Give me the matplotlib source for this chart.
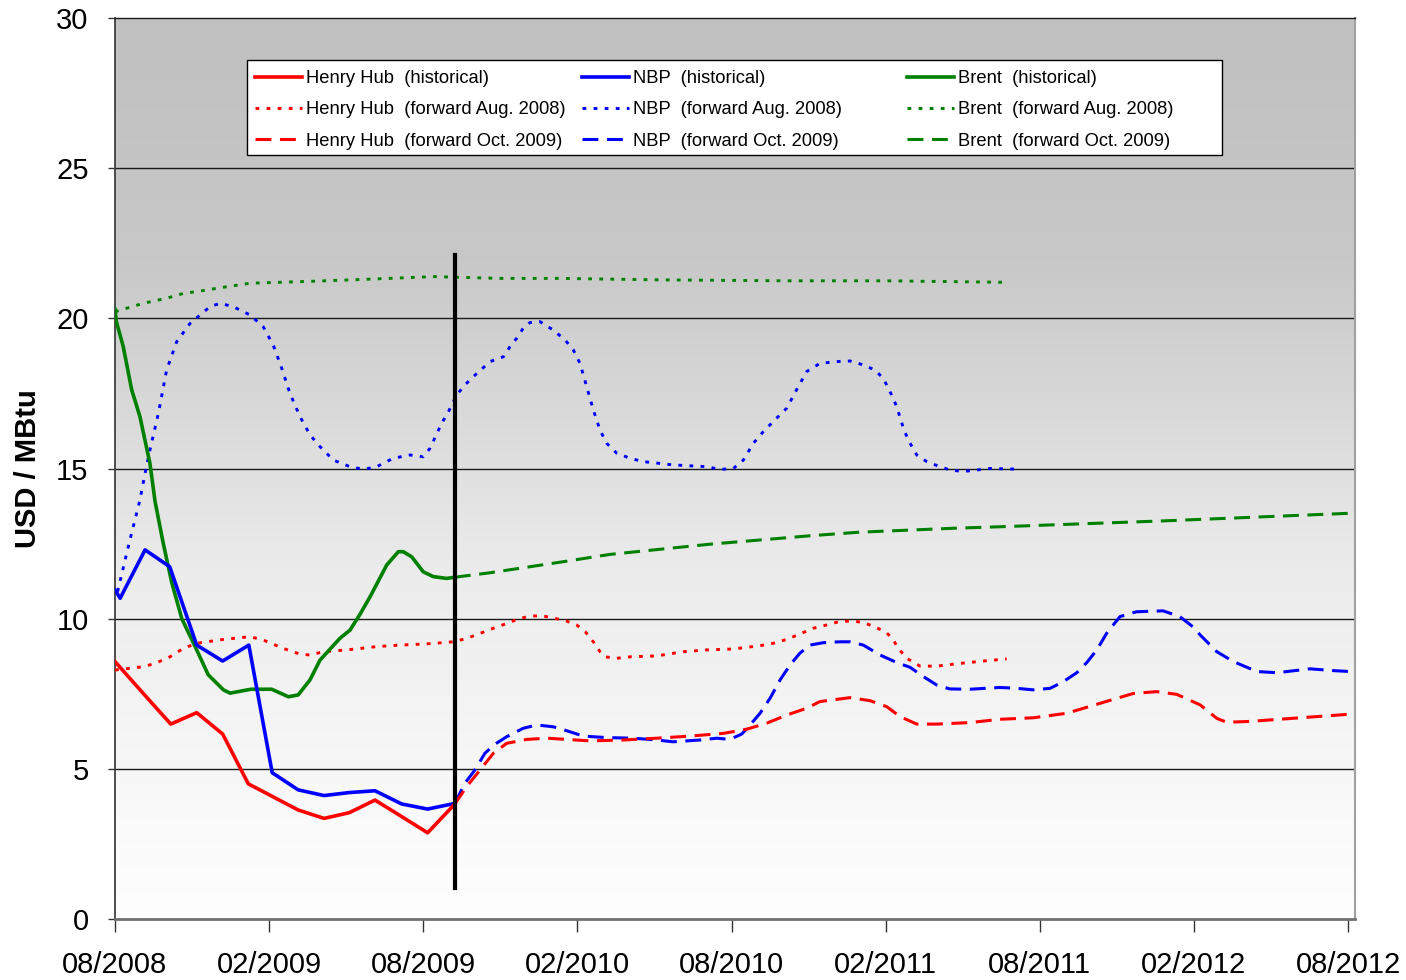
import numpy as np
import matplotlib
matplotlib.use("Agg")
import matplotlib.pyplot as plt
from matplotlib.lines import Line2D
from matplotlib.patches import Rectangle

plt.rcParams['font.family'] = ['Liberation Sans', 'DejaVu Sans']

# x positions are months after 08/2008
tick_pos = [0, 6, 12, 18, 24, 30, 36, 42, 48]
tick_labels = ['08/2008', '02/2009', '08/2009', '02/2010', '08/2010',
               '02/2011', '08/2011', '02/2012', '08/2012']

# ---- historical ----
hh_hist_x = [0, 1.10, 2.17, 3.18, 4.19, 5.19, 7.13, 8.14, 9.12, 10.12, 11.16, 12.17, 13.23]
hh_hist_y = [8.57, 7.51, 6.49, 6.87, 6.16, 4.50, 3.63, 3.35, 3.54, 3.96, 3.41, 2.87, 3.83]

nbp_hist_x = [0, 0.2, 1.17, 2.13, 3.18, 4.19, 5.21, 6.12, 7.13, 8.14, 9.12, 10.12, 11.16, 12.17, 13.23]
nbp_hist_y = [10.96, 10.68, 12.29, 11.73, 9.12, 8.59, 9.12, 4.87, 4.30, 4.11, 4.21, 4.27, 3.83, 3.66, 3.85]

brent_hist_x = [0, 0.05, 0.32, 0.65, 0.97, 1.36, 1.56, 1.88, 2.21, 2.60, 3.18, 3.63, 4.22,
                4.48, 5.29, 6.10, 6.75, 7.13, 7.59, 7.98, 8.76, 9.15, 9.54, 9.93, 10.58,
                11.03, 11.22, 11.55, 12.0, 12.39, 12.91, 13.23]
brent_hist_y = [20.3, 19.9, 19.06, 17.62, 16.73, 15.17, 13.9, 12.5, 11.2, 10.0, 8.96, 8.13, 7.63,
                7.52, 7.65, 7.65, 7.40, 7.46, 7.96, 8.62, 9.35, 9.62, 10.15, 10.73, 11.79,
                12.23, 12.23, 12.06, 11.56, 11.40, 11.34, 11.38]

# ---- forward curves Aug. 2008 ----
hh_fa_x = [0, 1.10, 1.56, 2.14, 2.66, 3.18, 4.22, 5.26, 5.77, 6.55, 7.20, 7.59, 8.11, 9.02,
           10.19, 11.09, 12.13, 13.17, 13.69, 14.21, 14.73, 15.25, 15.76, 16.22, 16.67,
           17.13, 17.58, 17.97, 18.30, 18.62, 18.88, 19.07, 19.53, 20.05, 21.09, 22.12,
           23.03, 24.07, 25.11, 25.62, 26.15, 26.66, 27.18, 27.70, 28.09, 28.68, 29.13,
           29.58, 30.04, 30.30, 30.49, 30.82, 31.34, 31.99, 32.89, 33.93, 34.71]
hh_fa_y = [8.29, 8.40, 8.51, 8.73, 9.01, 9.18, 9.31, 9.40, 9.29, 9.01, 8.82, 8.79, 8.90, 8.96,
           9.07, 9.12, 9.16, 9.23, 9.34, 9.51, 9.68, 9.84, 10.01, 10.09, 10.09,
           10.01, 9.92, 9.79, 9.57, 9.23, 8.90, 8.73, 8.68, 8.73, 8.76, 8.90,
           8.96, 8.99, 9.10, 9.18, 9.31, 9.49, 9.68, 9.79, 9.88, 9.93, 9.87,
           9.73, 9.53, 9.29, 9.01, 8.68, 8.42, 8.42, 8.51, 8.60, 8.66]

nbp_fa_x = [0.1, 0.58, 0.97, 1.17, 1.36, 1.69, 2.01, 2.40, 2.92, 3.31, 3.70, 4.09, 4.60, 5.26,
            5.77, 6.16, 6.49, 6.81, 7.20, 7.59, 7.98, 8.50, 9.15, 9.67, 10.19, 10.83, 11.48,
            12.00, 12.26, 12.72, 12.98, 13.30, 13.62, 13.95, 14.60, 15.12, 15.38, 15.64,
            15.89, 16.15, 16.54, 17.06, 17.52, 17.84, 18.10, 18.36, 18.62, 18.88, 19.14,
            19.53, 20.05, 20.56, 21.73, 23.03, 23.55, 24.07, 24.46, 24.85, 25.24, 25.69,
            26.15, 26.60, 26.93, 27.44, 28.09, 28.61, 29.13, 29.58, 29.91, 30.23, 30.43,
            30.69, 30.88, 31.21, 31.60, 32.05, 32.50, 33.02, 33.54, 34.06, 35.07]
nbp_fa_y = [10.9, 12.62, 13.95, 14.84, 15.62, 16.84, 18.28, 19.22, 19.83, 20.11, 20.39, 20.50,
            20.39, 20.11, 19.72, 19.11, 18.34, 17.5, 16.73, 16.12, 15.73, 15.28, 15.06, 14.97,
            15.06, 15.34, 15.45, 15.39, 15.67, 16.51, 16.89, 17.45, 17.78, 18.06, 18.56,
            18.72, 19.06, 19.34, 19.67, 19.86, 19.89, 19.61, 19.28, 18.95, 18.50, 17.73,
            16.95, 16.28, 15.84, 15.51, 15.34, 15.23, 15.12, 15.06, 14.97, 15.0, 15.28,
            15.84, 16.23, 16.62, 17.01, 17.73, 18.23, 18.50, 18.56, 18.58, 18.45, 18.28,
            18.0, 17.45, 17.06, 16.34, 15.95, 15.45, 15.23, 15.08, 14.95, 14.90, 14.95,
            15.0, 14.98]

brent_fa_x = [0, 1.10, 2.01, 2.66, 3.18, 3.96, 5.26, 7.2, 9.8, 12.4, 13.2, 15.0, 17.3, 21.3,
              26.1, 30.0, 34.64]
brent_fa_y = [20.22, 20.50, 20.67, 20.83, 20.89, 21.0, 21.17, 21.22, 21.30, 21.39, 21.37,
              21.33, 21.33, 21.28, 21.25, 21.25, 21.20]

# ---- forward curves Oct. 2009 ----
hh_fo_x = [13.23, 13.69, 14.21, 14.73, 15.25, 16.03, 16.81, 17.58, 18.49, 19.79, 21.09,
           22.38, 23.68, 24.59, 25.37, 26.15, 26.93, 27.44, 28.61, 29.39, 30.04, 30.56,
           31.21, 31.99, 33.28, 34.45, 35.75, 37.05, 38.34, 39.64, 40.55, 41.33, 42.24,
           42.89, 43.28, 44.19, 45.49, 46.79, 48.08]
hh_fo_y = [3.83, 4.41, 4.96, 5.52, 5.85, 5.98, 6.02, 5.98, 5.93, 5.96, 6.02,
           6.09, 6.18, 6.32, 6.52, 6.79, 7.02, 7.24, 7.37, 7.27, 7.07, 6.74,
           6.49, 6.49, 6.54, 6.65, 6.70, 6.85, 7.18, 7.51, 7.57, 7.48, 7.13,
           6.68, 6.55, 6.58, 6.66, 6.74, 6.82]

nbp_fo_x = [13.23, 13.62, 14.01, 14.40, 14.79, 15.25, 15.89, 16.42, 17.06, 17.58, 18.23,
            19.14, 20.18, 21.09, 21.73, 22.77, 23.42, 23.94, 24.40, 24.72, 25.11, 25.50,
            25.89, 26.28, 26.66, 27.05, 27.57, 28.22, 28.61, 29.13, 29.78, 30.43, 30.95,
            31.47, 31.99, 32.50, 33.28, 34.45, 35.10, 35.75, 36.40, 36.91, 37.44, 37.83,
            38.22, 38.60, 39.12, 39.76, 40.80, 41.45, 41.96, 42.24, 42.89, 43.54, 44.45,
            45.23, 46.52, 47.43, 48.08]
nbp_fo_y = [3.85, 4.52, 4.96, 5.52, 5.82, 6.07, 6.35, 6.46, 6.40, 6.27, 6.09,
            6.04, 6.02, 5.96, 5.90, 5.96, 6.02, 5.98, 6.16, 6.46, 6.85, 7.35,
            7.96, 8.46, 8.85, 9.12, 9.20, 9.23, 9.23, 9.12, 8.79, 8.54, 8.38,
            8.07, 7.79, 7.66, 7.65, 7.71, 7.68, 7.63, 7.68, 7.90, 8.20, 8.54,
            8.96, 9.51, 10.07, 10.23, 10.26, 10.07, 9.73, 9.46, 8.90, 8.57, 8.24,
            8.20, 8.33, 8.27, 8.24]

brent_fo_x = [13.23, 14.61, 17.32, 19.27, 21.21, 23.16, 25.11, 27.05, 29.00, 30.95, 32.63,
              34.45, 40.94, 48.08]
brent_fo_y = [11.38, 11.53, 11.88, 12.14, 12.31, 12.48, 12.62, 12.76, 12.88, 12.95, 13.01,
              13.06, 13.26, 13.51]

# vertical marker (Oct. 2009)
marker_x = 13.23
marker_y = [1.03, 22.1]

RED, BLUE, GREEN = '#FF0000', '#0000FF', '#008000'
LW_SOLID, LW_DOT, LW_DASH = 2.6, 2.1, 2.2
DOT = (1.3, 2.5)
DASH = (5.2, 2.8)

fig = plt.figure(figsize=(14.06, 9.80), dpi=100)
ax = fig.add_axes([115/1406, 61/980, 1240/1406, 901/980])

# background gradient
t = np.linspace(0, 1, 400)
shade = np.interp(t, [0, 0.27, 0.62, 0.89, 1.0], [192, 200, 236, 250, 254]) / 255.0
img = np.dstack([shade, shade, shade])[:, None, :].reshape(400, 1, 3)
ax.imshow(img, extent=[0, 1, 0, 1], transform=ax.transAxes, aspect='auto',
          zorder=0, interpolation='bilinear')

ax.set_xlim(0, 48.27)
ax.set_ylim(0, 30)

for yv in [5, 10, 15, 20, 25]:
    ax.axhline(yv, color='#1a1a1a', lw=1.0, zorder=1)

def dotted(x, y, c):
    l, = ax.plot(x, y, color=c, lw=LW_DOT, zorder=3)
    l.set_dashes(DOT)
    return l

def dashed(x, y, c):
    l, = ax.plot(x, y, color=c, lw=LW_DASH, zorder=3)
    l.set_dashes(DASH)
    return l

dotted(brent_fa_x, brent_fa_y, GREEN)
dotted(nbp_fa_x, nbp_fa_y, BLUE)
dotted(hh_fa_x, hh_fa_y, RED)
dashed(brent_fo_x, brent_fo_y, GREEN)
dashed(nbp_fo_x, nbp_fo_y, BLUE)
dashed(hh_fo_x, hh_fo_y, RED)
ax.plot(brent_hist_x, brent_hist_y, color=GREEN, lw=LW_SOLID, zorder=4)
ax.plot(nbp_hist_x, nbp_hist_y, color=BLUE, lw=LW_SOLID, zorder=4)
ax.plot(hh_hist_x, hh_hist_y, color=RED, lw=LW_SOLID, zorder=4)

ax.plot([marker_x, marker_x], marker_y, color='black', lw=3.0, zorder=5)

# axes styling
ax.set_xticks(tick_pos)
ax.set_xticklabels(tick_labels)
ax.set_yticks(range(0, 31, 5))
ax.tick_params(axis='x', direction='out', length=9, width=1.0, color='#333333',
               labelsize=21, pad=14)
ax.tick_params(axis='y', direction='out', length=5, width=1.0, color='#333333',
               labelsize=21, pad=14)
ax.spines['left'].set_color('#404040')
ax.spines['left'].set_linewidth(1.3)
ax.spines['bottom'].set_color('#707070')
ax.spines['bottom'].set_linewidth(2.0)
ax.spines['right'].set_color('#a0a0a0')
ax.spines['right'].set_linewidth(1.5)
ax.spines['top'].set_color('#1a1a1a')
ax.spines['top'].set_linewidth(1.0)

ax.set_ylabel('USD / MBtu', fontsize=21, fontweight='bold')
ax.yaxis.set_label_coords(-0.059, 0.5)

# legend frame
ax.add_patch(Rectangle(((247-115)/1240, (919-155)/901), (1222-247)/1240, 95/901,
                       transform=ax.transAxes, facecolor='white', edgecolor='black',
                       lw=1.0, zorder=6))

def leg_handles(c):
    h1 = Line2D([], [], color=c, lw=LW_SOLID)
    h2 = Line2D([], [], color=c, lw=LW_DOT, dashes=DOT)
    h3 = Line2D([], [], color=c, lw=LW_DASH, dashes=DASH)
    return [h1, h2, h3]

cols = [('Henry Hub', RED, 255), ('NBP', BLUE, 582), ('Brent', GREEN, 907)]
for name, c, px in cols:
    labels = [f'{name}  (historical)', f'{name}  (forward Aug. 2008)',
              f'{name}  (forward Oct. 2009)']
    lg = fig.legend(leg_handles(c), labels, loc='upper left',
                    bbox_to_anchor=(px/1406, 1 - 70/980), frameon=False,
                    fontsize=13.2, handlelength=2.55, handletextpad=0.25,
                    labelspacing=0.78, borderpad=0, borderaxespad=0)
    lg.set_zorder(7)

fig.savefig('out.png', dpi=100)
